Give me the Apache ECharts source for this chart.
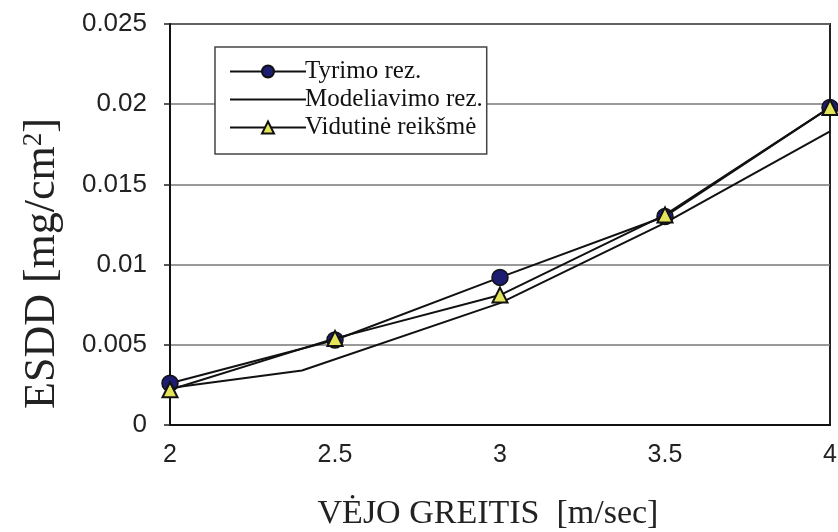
<!DOCTYPE html>
<html><head><meta charset="utf-8">
<script src="https://cdn.jsdelivr.net/npm/echarts@6/dist/echarts.min.js"></script>
<style>html,body{margin:0;padding:0;background:#fff;}#c{width:838px;height:532px;}</style>
</head><body><div id="c"></div>
<script>
var xValues = [2, 2.5, 3, 3.5, 4];
var tyrimo = [0.0026, 0.0053, 0.0092, 0.0130, 0.0198];
var vidutine = [0.0022, 0.0054, 0.0081, 0.0131, 0.0198];
var modelX = [2, 2.4, 3, 3.5, 4];
var modelY = [0.0023, 0.0034, 0.0076, 0.0126, 0.0183];
var seriesNames = ['Tyrimo rez.', 'Modeliavimo rez.', 'Vidutinė reikšmė'];
var yTicks = [0, 0.005, 0.01, 0.015, 0.02, 0.025];

function pairs(xs, ys){ return xs.map(function(x,i){return [x, ys[i]];}); }

var chart = echarts.init(document.getElementById('c'));
chart.setOption({
  animation: false,
  backgroundColor: '#fff',
  grid: {left: 170, right: 8, top: 24, bottom: 107, outerBoundsMode: 'none', containLabel: false,
    show: true, borderColor: '#222', borderWidth: 2, backgroundColor: 'transparent'},
  legend: {
    orient: 'vertical', left: 215, top: 47,
    data: [
      {name: seriesNames[0]},
      {name: seriesNames[1], itemStyle: {opacity: 0}},
      {name: seriesNames[2]}
    ],
    itemWidth: 76, itemHeight: 15, itemGap: 3,
    backgroundColor: '#fff', borderColor: '#444', borderWidth: 1.5,
    padding: [12, 4, 14, 14],
    textStyle: {fontFamily: 'Liberation Serif', fontSize: 25, lineHeight: 22, color: '#111', padding: [0,0,0,-6]}
  },
  xAxis: {
    type: 'value', min: 2, max: 4, interval: 0.5,
    axisLine: {show: true, lineStyle: {color: '#111', width: 2}},
    axisTick: {show: false},
    splitLine: {show: false},
    axisLabel: {fontFamily: 'Liberation Sans', fontSize: 25, color: '#222', margin: 18,
      formatter: function(v){ return String(v); }},
    name: 'VĖJO GREITIS  [m/sec]', nameLocation: 'middle', nameGap: 72,
    nameTextStyle: {fontFamily: 'Liberation Serif', fontSize: 34, color: '#222', padding: [0, 24, 0, 0]}
  },
  yAxis: {
    type: 'value', min: 0, max: 0.025, interval: 0.005,
    axisLine: {show: true, lineStyle: {color: '#111', width: 2}},
    axisTick: {show: true, length: 6, lineStyle: {color: '#222', width: 1.5}},
    splitLine: {show: true, lineStyle: {color: '#777', width: 1.5}},
    axisLabel: {fontFamily: 'Liberation Sans', fontSize: 26, color: '#222', margin: 23,
      formatter: function(v){ var i = yTicks.indexOf(v); return i>=0 ? String(yTicks[i]) : String(v); }},
    name: 'ESDD [mg/cm{sup|2}]', nameLocation: 'middle', nameGap: 106, nameRotate: 90,
    nameTextStyle: {fontFamily: 'Liberation Serif', fontSize: 44, color: '#222', padding: [0, 78, 0, 0],
      rich: {sup: {fontFamily: 'Liberation Serif', fontSize: 27, color: '#222', verticalAlign: 'top', padding: [0,0,17,0]}}}
  },
  series: [
    {name: seriesNames[0], type: 'line', data: pairs(xValues, tyrimo),
     symbol: 'circle', symbolSize: 16,
     itemStyle: {color: '#1c1c70', borderColor: '#111', borderWidth: 1.5},
     lineStyle: {color: '#111', width: 2}, z: 3},
    {name: seriesNames[1], type: 'line', data: pairs(modelX, modelY),
     symbol: 'none', showSymbol: false,
     itemStyle: {color: 'rgba(0,0,0,0)', borderWidth: 0},
     lineStyle: {color: '#111', width: 2}, z: 2},
    {name: seriesNames[2], type: 'line', data: pairs(xValues, vidutine),
     symbol: 'triangle', symbolSize: 15,
     itemStyle: {color: '#e4e45a', borderColor: '#111', borderWidth: 2},
     lineStyle: {color: '#111', width: 2}, z: 4}
  ]
});
</script>
</body></html>
